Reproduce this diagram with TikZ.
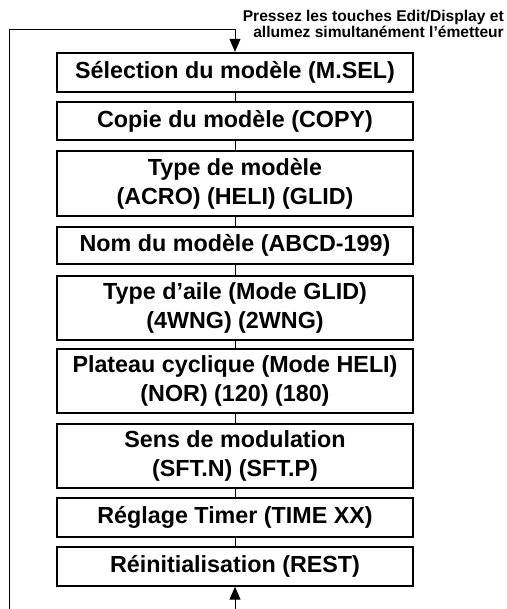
\documentclass[tikz,border=0pt]{standalone}
\usepackage{fontspec}
\setmainfont{Liberation Sans}
\usetikzlibrary{arrows.meta}

\begin{document}
\begin{tikzpicture}[x=1pt, y=-1pt,
  menu/.style={draw, line width=1.4pt, minimum width=356pt, inner sep=0pt, align=center,
    font=\bfseries\fontsize{23.3}{29}\selectfont},
  link/.style={line width=1pt},
  feed/.style={line width=1pt, -{Triangle[length=13pt, width=11pt]}}]

% The picture keeps the size of the reference
\useasboundingbox (0,0) rectangle (506,609);

% Reference points of the loop
\coordinate (corner)  at (9.5, 30);
\coordinate (entry)   at (235, 30);
\coordinate (low end) at (9.5, 609);
\coordinate (back)    at (235, 609);

% The items of the menu
\node[menu, line width=2.4pt, minimum height=39pt] (msel) at (235, 72.5) {Sélection du modèle (M.SEL)};
\node[menu, minimum height=38pt] (copy) at (235, 121)   {Copie du modèle (COPY)};
\node[menu, minimum height=65pt] (type) at (235, 183.5) {Type de modèle\\(ACRO) (HELI) (GLID)};
\node[menu, minimum height=37pt] (name) at (235, 245.5) {Nom du modèle (ABCD-199)};
\node[menu, minimum height=64pt] (wing) at (235, 308)   {Type d’aile (Mode GLID)\\(4WNG) (2WNG)};
\node[menu, minimum height=64pt] (swash) at (235, 381)  {Plateau cyclique (Mode HELI)\\(NOR) (120) (180)};
\node[menu, minimum height=64pt] (sft) at (235, 456)    {Sens de modulation\\(SFT.N) (SFT.P)};
\node[menu, minimum height=39pt] (timer) at (235, 517.5) {Réglage Timer (TIME XX)};
\node[menu, minimum height=39pt] (rest) at (235, 566.5) {Réinitialisation (REST)};

% Links between the items
\foreach \a/\b in {msel/copy, copy/type, type/name, name/wing, wing/swash, swash/sft, sft/timer, timer/rest}
  \draw[link] (\a.south) -- (\b.north);

% The loop back to the first item
\draw[feed] (low end) -- (corner) -- (entry) -- (msel.north);
\draw[feed] (back) -- (rest.south);

% label
\node[anchor=north east, align=right, inner sep=0pt, font=\bfseries\fontsize{15.6}{14.5}\selectfont]
  (hint) at (504, 10) {Pressez les touches Edit/Display et\\allumez simultanément l’émetteur};

\end{tikzpicture}
\end{document}
